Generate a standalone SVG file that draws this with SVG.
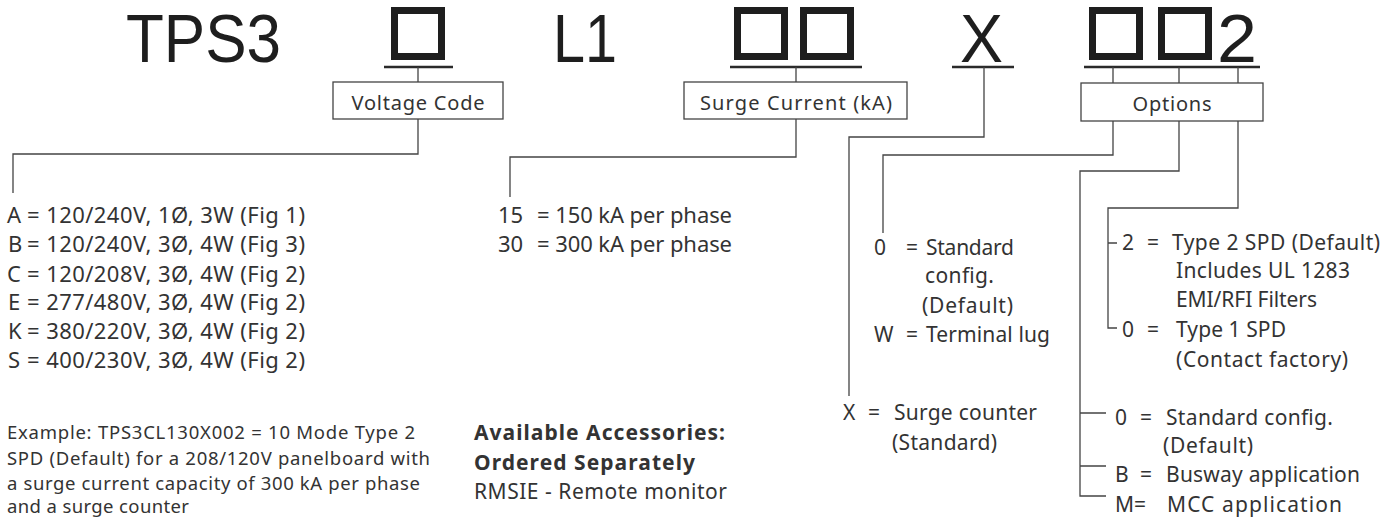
<svg xmlns="http://www.w3.org/2000/svg" width="1397" height="520" viewBox="0 0 1397 520">
<style>
.title{font-family:"Liberation Sans",Arial,sans-serif;font-size:69px;fill:#1e1e1e}
.glyph{fill:none;stroke:#1e1e1e;stroke-width:7}
.ul{stroke:#2a2a2a;stroke-width:2.5}
.lbl{fill:#fff;stroke:#444;stroke-width:1.3}
.lt{font-family:"Noto Sans",sans-serif;font-size:20px;fill:#333;text-anchor:middle}
.t{font-family:"Noto Sans",sans-serif;font-size:21px;fill:#333}
.tl{font-family:"Noto Sans",sans-serif;font-size:22px;fill:#333}
.ts{font-family:"Noto Sans",sans-serif;font-size:18.5px;fill:#333}
.tb{font-family:"Noto Sans",sans-serif;font-size:21px;fill:#333;font-weight:bold}
.tr{font-family:"Noto Sans",sans-serif;font-size:21px;fill:#333}
.c{fill:none;stroke:#444;stroke-width:1.3}
</style>
<rect width="1397" height="520" fill="#fff"/>

<g id="part-number">
<text class="title" x="126" y="62" textLength="155" lengthAdjust="spacingAndGlyphs">TPS3</text>
<rect class="glyph" x="394.5" y="10.5" width="47" height="46"/>
<text class="title" x="553" y="62" textLength="64" lengthAdjust="spacingAndGlyphs">L1</text>
<rect class="glyph" x="737.5" y="10.5" width="47" height="46"/>
<rect class="glyph" x="803.5" y="10.5" width="47" height="46"/>
<text class="title" x="960" y="62" textLength="43" lengthAdjust="spacingAndGlyphs">X</text>
<rect class="glyph" x="1092.5" y="10.5" width="47" height="46"/>
<rect class="glyph" x="1161.5" y="10.5" width="47" height="46"/>
<text class="title" x="1217" y="62" textLength="40" lengthAdjust="spacingAndGlyphs">2</text>
<line class="ul" x1="384" y1="67" x2="453" y2="67"/>
<line class="ul" x1="730" y1="67" x2="862" y2="67"/>
<line class="ul" x1="952" y1="67" x2="1014" y2="67"/>
<line class="ul" x1="1084" y1="67" x2="1260" y2="67"/>
</g>

<g id="connectors">
<path class="c" d="M418 67V82M418 119V154H13V193"/>
<path class="c" d="M796 67V82M796 119V157H510V197"/>
<path class="c" d="M984 67V137H849V396"/>
<path class="c" d="M1113 67V83M1179 67V83M1238 67V83"/>
<path class="c" d="M1113 121V155H883V233"/>
<path class="c" d="M1179 121V171H1080V496H1106M1080 413H1106M1080 466H1106"/>
<path class="c" d="M1238 121V208H1108V328H1117M1108 243H1117"/>
</g>

<g id="voltage-code">
<rect class="lbl" x="333" y="82" width="170" height="37"/>
<text class="lt" x="418" y="110" textLength="133">Voltage Code</text>
</g>

<g id="surge-current">
<rect class="lbl" x="684" y="82" width="223" height="37"/>
<text class="lt" x="796" y="110" textLength="192">Surge Current (kA)</text>
</g>

<g id="options">
<rect class="lbl" x="1081" y="83" width="182" height="38"/>
<text class="lt" x="1172" y="111" textLength="79">Options</text>
</g>

<g id="voltage-list">
<text class="tl" x="7" y="223">A</text><text class="tl" x="27" y="223" textLength="278">= 120/240V, 1Ø, 3W (Fig 1)</text>
<text class="tl" x="8" y="252">B</text><text class="tl" x="27" y="252" textLength="278">= 120/240V, 3Ø, 4W (Fig 3)</text>
<text class="tl" x="7" y="282">C</text><text class="tl" x="27" y="282" textLength="278">= 120/208V, 3Ø, 4W (Fig 2)</text>
<text class="tl" x="8" y="310">E</text><text class="tl" x="27" y="310" textLength="278">= 277/480V, 3Ø, 4W (Fig 2)</text>
<text class="tl" x="8" y="339">K</text><text class="tl" x="27" y="339" textLength="278">= 380/220V, 3Ø, 4W (Fig 2)</text>
<text class="tl" x="8" y="368">S</text><text class="tl" x="27" y="368" textLength="278">= 400/230V, 3Ø, 4W (Fig 2)</text>
</g>

<g id="example">
<text class="ts" x="7" y="439" textLength="408">Example: TPS3CL130X002 = 10 Mode Type 2</text>
<text class="ts" x="7" y="465" textLength="423">SPD (Default) for a 208/120V panelboard with</text>
<text class="ts" x="7" y="490" textLength="413">a surge current capacity of 300 kA per phase</text>
<text class="ts" x="7" y="513" textLength="182">and a surge counter</text>
</g>

<g id="surge-list">
<text class="tl" x="498" y="223">15</text><text class="tl" x="537" y="223" textLength="195">= 150 kA per phase</text>
<text class="tl" x="498" y="252">30</text><text class="tl" x="537" y="252" textLength="195">= 300 kA per phase</text>
</g>

<g id="accessories">
<text class="tb" x="474" y="440" textLength="251">Available Accessories:</text>
<text class="tb" x="474" y="470" textLength="221">Ordered Separately</text>
<text class="tr" x="474" y="499" textLength="253">RMSIE - Remote monitor</text>
</g>

<g id="counter-list">
<text class="t" x="843" y="420">X</text><text class="t" x="868" y="420">=</text><text class="t" x="894" y="420" textLength="143">Surge counter</text>
<text class="t" x="892" y="450" textLength="105">(Standard)</text>
</g>

<g id="terminal-list">
<text class="t" x="874" y="255">0</text><text class="t" x="906" y="255">=</text><text class="t" x="926" y="255" textLength="88">Standard</text>
<text class="t" x="925" y="283" textLength="69">config.</text>
<text class="t" x="922" y="313" textLength="91">(Default)</text>
<text class="t" x="874" y="342">W</text><text class="t" x="906" y="342">=</text><text class="t" x="926" y="342" textLength="124">Terminal lug</text>
</g>

<g id="spd-list">
<text class="t" x="1122" y="250">2</text><text class="t" x="1147" y="250">=</text><text class="t" x="1172" y="250" textLength="208">Type 2 SPD (Default)</text>
<text class="t" x="1176" y="278" textLength="174">Includes UL 1283</text>
<text class="t" x="1176" y="307" textLength="141">EMI/RFI Filters</text>
<text class="t" x="1122" y="337">0</text><text class="t" x="1147" y="337">=</text><text class="t" x="1176" y="337" textLength="110">Type 1 SPD</text>
<text class="t" x="1176" y="367" textLength="172">(Contact factory)</text>
</g>

<g id="application-list">
<text class="t" x="1115" y="425">0</text><text class="t" x="1140" y="425">=</text><text class="t" x="1166" y="425" textLength="167">Standard config.</text>
<text class="t" x="1163" y="453" textLength="90">(Default)</text>
<text class="t" x="1115" y="482">B</text><text class="t" x="1140" y="482">=</text><text class="t" x="1166" y="482" textLength="194">Busway application</text>
<text class="t" x="1115" y="512">M</text><text class="t" x="1134" y="512">=</text><text class="t" x="1167" y="512" textLength="175">MCC application</text>
</g>
</svg>
